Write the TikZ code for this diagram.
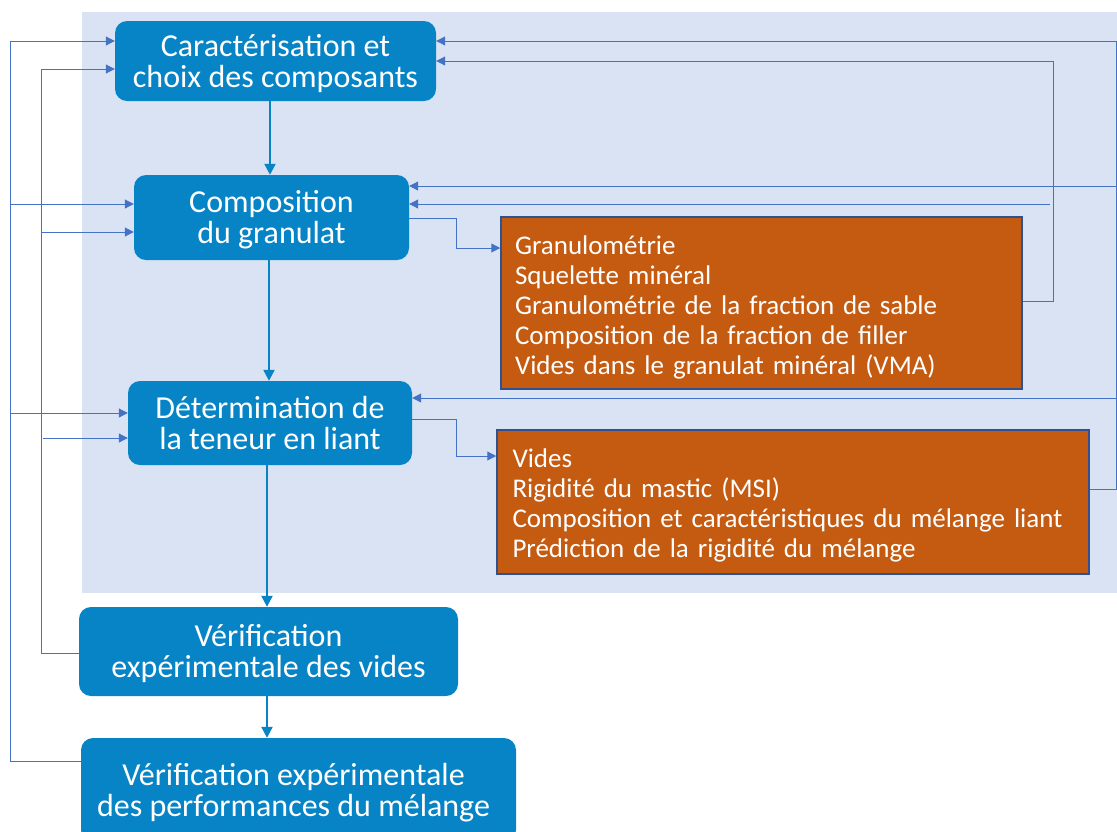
\documentclass[tikz,border=0pt]{standalone}
\usepackage{fontspec}
\setmainfont{Carlito}
\usetikzlibrary{arrows.meta}
\definecolor{bgblue}{HTML}{DAE3F3}
\definecolor{boxblue}{HTML}{0784C6}
\definecolor{lineblue}{HTML}{4472C4}
\definecolor{orfill}{HTML}{C55A11}
\definecolor{orborder}{HTML}{2F528F}
\tikzset{
  bluebox/.style={fill=boxblue, rounded corners=12pt, inner sep=0pt},
  btext/.style={text=white, align=center, font=\fontsize{32}{31}\selectfont, inner sep=0pt, yshift=-3pt},
  orbox/.style={fill=orfill, draw=orborder, line width=1.5pt, inner sep=0pt},
  otext/.style={text=white, align=left, font=\fontsize{27}{30}\selectfont, inner sep=0pt, yshift=-3pt},
  fb/.style={draw=lineblue, line width=1pt, -{Triangle[length=9pt,width=9pt]}},
  flow/.style={draw=boxblue, line width=2.2pt, -{Triangle[length=11pt,width=11pt]}}
}
\begin{document}
\begin{tikzpicture}[x=1pt,y=-1pt]
\useasboundingbox (0,0) rectangle (1117,831);
\clip (0,0) rectangle (1117,831);
\fill[white] (0,0) rectangle (1117,831);
\fill[bgblue] (82,12) rectangle (1117,593);

\node[bluebox, minimum width=321pt, minimum height=80pt,
  label={[btext]center:{Caractérisation et\\choix des composants}}] (B1) at (275.5,61) {};
\node[bluebox, minimum width=275pt, minimum height=85pt,
  label={[btext, yshift=1pt]center:{Composition\\du granulat}}] (B2) at (271.5,217.5) {};
\node[bluebox, minimum width=284pt, minimum height=84pt,
  label={[btext, yshift=3pt]center:{Détermination de\\la teneur en liant}}] (B3) at (270,423) {};
\node[bluebox, minimum width=379pt, minimum height=89pt,
  label={[btext, yshift=1pt]center:{Vérification\\expérimentale des vides}}] (B4) at (268.5,651.5) {};
\node[bluebox, minimum width=435pt, minimum height=104pt,
  label={[btext, xshift=-5pt]center:{Vérification expérimentale\\des performances du mélange}}] (B5) at (298.5,790) {};

\node[orbox, minimum width=521pt, minimum height=172pt,
  label={[otext, text width=493pt, yshift=-1pt]center:{Granulométrie\\Squelette minéral\\Granulométrie de la fraction de sable\\Composition de la fraction de filler\\Vides dans le granulat minéral (VMA)}}] (O1) at (761.5,303) {};
\node[orbox, minimum width=592pt, minimum height=144pt,
  label={[otext, text width=563pt, xshift=1pt]center:{Vides\\Rigidité du mastic (MSI)\\Composition et caractéristiques du mélange liant\\Prédiction de la rigidité du mélange}}] (O2) at (793,502) {};

% main flow
\draw[flow] (B1.south -| 270,0) -- (B2.north -| 270,0);
\draw[flow] (B2.south -| 269,0) -- (B3.north -| 269,0);
\draw[flow] (B3.south -| 267,0) -- (B4.north -| 267,0);
\draw[flow] (B4.south -| 267,0) -- (B5.north -| 267,0);

% boxes to details
\draw[fb] (B2.east |- 0,218) -- (456,218) |- (O1.west |- 0,248);
\draw[fb] (B3.east |- 0,419) -- (456,419) |- (O2.west |- 0,456);

% left feedback
\draw[fb] (B5.west |- 0,761) -- (10,761) -- (10,41) -- (B1.west |- 0,41);
\draw[fb] (10,204) -- (B2.west |- 0,204);
\draw[fb] (10,413) -- (B3.west |- 0,413);
\draw[fb] (B4.west |- 0,653) -- (41,653) -- (41,69) -- (B1.west |- 0,69);
\draw[fb] (41,232) -- (B2.west |- 0,232);
\draw[fb] (43,438) -- (B3.west |- 0,438);

% right feedback
\draw[fb] (O2.east |- 0,489) -- (1116,489) -- (1116,41) -- (B1.east |- 0,41);
\draw[fb] (1116,186) -- (B2.east |- 0,186);
\draw[fb] (1116,398) -- (B3.east |- 0,398);
\draw[fb] (O1.east |- 0,301) -- (1053,301) -- (1053,61) -- (B1.east |- 0,61);
\draw[fb] (1050,204) -- (B2.east |- 0,204);
\end{tikzpicture}
\end{document}
